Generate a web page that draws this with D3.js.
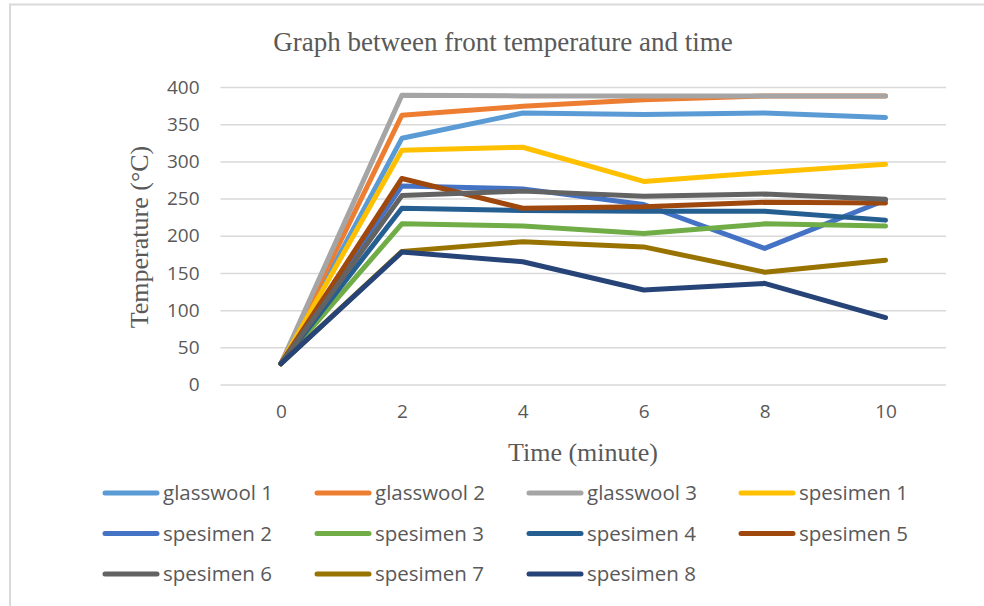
<!DOCTYPE html>
<html>
<head>
<meta charset="utf-8">
<script src="https://cdn.jsdelivr.net/npm/d3@7"></script>
<style>
  html, body { margin: 0; padding: 0; background: #ffffff; }
  svg { display: block; }
</style>
</head>
<body>
<svg id="chart" width="984" height="606"></svg>
<script>
const times = [0, 2, 4, 6, 8, 10];
const yTicks = [0, 50, 100, 150, 200, 250, 300, 350, 400];
const seriesNames = ["glasswool 1", "glasswool 2", "glasswool 3", "spesimen 1", "spesimen 2", "spesimen 3",
                     "spesimen 4", "spesimen 5", "spesimen 6", "spesimen 7", "spesimen 8"];
const glasswool1 = [28, 331, 365, 363, 365, 359];
const glasswool2 = [28, 362, 374, 383, 388, 388];
const glasswool3 = [28, 389, 388, 388, 388, 388];
const spesimen1 = [28, 315, 319, 273, 285, 296];
const spesimen2 = [28, 267, 263, 242, 183, 248];
const spesimen3 = [28, 216, 213, 203, 216, 213];
const spesimen4 = [28, 237, 234, 233, 233, 221];
const spesimen5 = [28, 277, 237, 239, 245, 244];
const spesimen6 = [28, 254, 260, 253, 256, 249];
const spesimen7 = [28, 179, 192, 185, 151, 167];
const spesimen8 = [28, 178, 165, 127, 136, 90];
const seriesValues = [glasswool1, glasswool2, glasswool3, spesimen1, spesimen2, spesimen3,
                      spesimen4, spesimen5, spesimen6, spesimen7, spesimen8];
const colors = ["#5B9BD5", "#ED7D31", "#A5A5A5", "#FFC000", "#4472C4", "#70AD47",
                "#255E91", "#9E480E", "#636363", "#997300", "#264478"];

const svg = d3.select("#chart");

// outer frame
svg.append("path")
  .attr("d", "M10,610 L10,4.5 L990,4.5")
  .attr("fill", "none").attr("stroke", "#d9d9d9").attr("stroke-width", 2);

const plotLeft = 220.5, plotRight = 946, plotTop = 87, plotBottom = 384.5;

const x = d3.scalePoint().domain(times).range([plotLeft, plotRight]).padding(0.5);
const y = d3.scaleLinear().domain([0, 400]).range([plotBottom, plotTop]);

const sansFont = "'Open Sans', 'Liberation Sans', sans-serif";
const serifFont = "'Liberation Serif', 'Times New Roman', serif";

// gridlines
const yAxis = d3.axisLeft(y).tickValues(yTicks).tickSize(-(plotRight - plotLeft)).tickPadding(21);
const gy = svg.append("g").attr("transform", `translate(${plotLeft},0)`).call(yAxis);
gy.select(".domain").remove();
gy.selectAll(".tick line").attr("stroke", "#d9d9d9").attr("stroke-width", 1.5);
gy.selectAll(".tick text")
  .attr("fill", "#595959").style("font-family", sansFont).style("font-size", "19px");

// x axis labels
const xAxis = d3.axisBottom(x).tickSize(0).tickPadding(20);
const gx = svg.append("g").attr("transform", `translate(0,${plotBottom})`).call(xAxis);
gx.select(".domain").remove();
gx.selectAll(".tick text")
  .attr("fill", "#595959").style("font-family", sansFont).style("font-size", "19px");

// lines
const line = d3.line().x((d, i) => x(times[i])).y(d => y(d));
seriesValues.forEach((vals, i) => {
  svg.append("path")
    .datum(vals)
    .attr("d", line)
    .attr("fill", "none")
    .attr("stroke", colors[i])
    .attr("stroke-width", 5)
    .attr("stroke-linejoin", "round")
    .attr("stroke-linecap", "round");
});

// title
svg.append("text")
  .attr("x", 503).attr("y", 51)
  .attr("text-anchor", "middle")
  .attr("fill", "#595959")
  .style("font-family", serifFont).style("font-size", "27px")
  .text("Graph between front temperature and time");

// axis titles
svg.append("text")
  .attr("transform", "translate(148,237) rotate(-90)")
  .attr("text-anchor", "middle")
  .attr("fill", "#595959")
  .style("font-family", serifFont).style("font-size", "26px")
  .text("Temperature (°C)");

svg.append("text")
  .attr("x", 583).attr("y", 461)
  .attr("text-anchor", "middle")
  .attr("fill", "#595959")
  .style("font-family", serifFont).style("font-size", "26px")
  .text("Time (minute)");

// legend
const legendX0 = 103, legendDX = 212, legendY0 = 493, legendDY = 40.5;
const lg = svg.append("g");
seriesNames.forEach((name, i) => {
  const col = i % 4, row = Math.floor(i / 4);
  const gx0 = legendX0 + col * legendDX, gy0 = legendY0 + row * legendDY;
  lg.append("line")
    .attr("x1", gx0 + 2).attr("x2", gx0 + 54)
    .attr("y1", gy0).attr("y2", gy0)
    .attr("stroke", colors[i]).attr("stroke-width", 5).attr("stroke-linecap", "round");
  lg.append("text")
    .attr("x", gx0 + 60).attr("y", gy0)
    .attr("dy", "0.35em")
    .attr("fill", "#595959")
    .style("font-family", sansFont).style("font-size", "20.5px")
    .text(name);
});
</script>
</body>
</html>
